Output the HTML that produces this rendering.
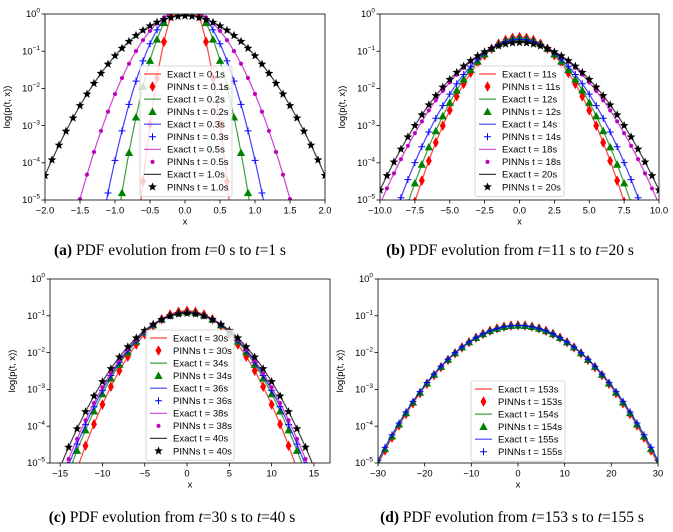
<!DOCTYPE html>
<html><head><meta charset="utf-8"><style>
body{margin:0;background:#fff}
svg{display:block;font-family:"Liberation Sans",sans-serif}
.cap{font-family:"Liberation Serif",serif;font-size:15.5px}
</style></head><body>
<svg id="fig" width="673" height="532" viewBox="0 0 673 532">
<text class="cap" x="170" y="255" text-anchor="middle"><tspan font-weight="bold">(a)</tspan> PDF evolution from <tspan font-style="italic">t</tspan>=0 s to <tspan font-style="italic">t</tspan>=1 s</text>
<text class="cap" x="510" y="255" text-anchor="middle"><tspan font-weight="bold">(b)</tspan> PDF evolution from <tspan font-style="italic">t</tspan>=11 s to <tspan font-style="italic">t</tspan>=20 s</text>
<text class="cap" x="172" y="522" text-anchor="middle"><tspan font-weight="bold">(c)</tspan> PDF evolution from <tspan font-style="italic">t</tspan>=30 s to <tspan font-style="italic">t</tspan>=40 s</text>
<text class="cap" x="512" y="522" text-anchor="middle"><tspan font-weight="bold">(d)</tspan> PDF evolution from <tspan font-style="italic">t</tspan>=153 s to <tspan font-style="italic">t</tspan>=155 s</text>
</svg>
<script>
// ---- data ----
const timesA = ["0.1s","0.2s","0.3s","0.5s","1.0s"];
const sigmaA = [0.125,0.185,0.228,0.31,0.45];
const xticksA = [-2,-1.5,-1,-0.5,0,0.5,1,1.5,2];
const xtickLabelsA = ["\u22122.0","\u22121.5","\u22121.0","\u22120.5","0.0","0.5","1.0","1.5","2.0"];
const timesB = ["11s","12s","14s","18s","20s"];
const sigmaB = [1.66,1.77,1.92,2.23,2.34];
const xticksB = [-10,-7.5,-5,-2.5,0,2.5,5,7.5,10];
const xtickLabelsB = ["\u221210.0","\u22127.5","\u22125.0","\u22122.5","0.0","2.5","5.0","7.5","10.0"];
const timesC = ["30s","34s","36s","38s","40s"];
const sigmaC = [2.92,3.12,3.2,3.27,3.42];
const xticksC = [-15,-10,-5,0,5,10,15];
const xtickLabelsC = ["\u221215","\u221210","\u22125","0","5","10","15"];
const timesD = ["153s","154s","155s"];
const sigmaD = [7.2,7.25,7.3];
const xticksD = [-30,-20,-10,0,10,20,30];
const xtickLabelsD = ["\u221230","\u221220","\u221210","0","10","20","30"];
const yticks = [0,-1,-2,-3,-4,-5];

const NS="http://www.w3.org/2000/svg";
const svg=document.getElementById('fig');
const colors=["#ff0000","#008000","#0000ff","#bf00bf","#000000"];
const mtypes=["d","^","+",".","*"];
const FS=9.4;
function mk(tag,attrs,parent){const e=document.createElementNS(NS,tag);for(const k in attrs)e.setAttribute(k,attrs[k]);(parent||svg).appendChild(e);return e;}
function marker(type,cx,cy,col,g,scale){
  scale=(scale||1)*1.15;let e;
  if(type==="d"){const w=2.6*scale,h=4.6*scale;e=mk('polygon',{points:`${cx},${cy-h} ${cx+w},${cy} ${cx},${cy+h} ${cx-w},${cy}`,fill:col},g);}
  else if(type==="^"){const s=3.6*scale;e=mk('polygon',{points:`${cx},${cy-s} ${cx+s},${cy+s*0.8} ${cx-s},${cy+s*0.8}`,fill:col},g);}
  else if(type==="+"){const s=3*scale;e=mk('path',{d:`M${cx-s},${cy}H${cx+s}M${cx},${cy-s}V${cy+s}`,stroke:col,'stroke-width':1},g);}
  else if(type==="."){e=mk('circle',{cx:cx,cy:cy,r:1.8*scale,fill:col},g);}
  else {const R=4*scale,r=1.7*scale;let p=[];for(let i=0;i<10;i++){const a=-Math.PI/2+i*Math.PI/5,rr=i%2?r:R;p.push((cx+rr*Math.cos(a)).toFixed(2)+","+(cy+rr*Math.sin(a)).toFixed(2));}e=mk('polygon',{points:p.join(" "),fill:col},g);}
  return e;
}
let pid=0;
function panel(c){
  pid++;
  const g=mk('g',{});
  
  
  const X=v=>c.px0+(v-c.xmin)/(c.xmax-c.xmin)*(c.px1-c.px0);
  const Y=lp=>c.py1-(lp+5)/5*(c.py1-c.py0);
  const cp=mk('clipPath',{id:'clip'+pid},g);
  mk('rect',{x:c.px0,y:c.py0,width:c.px1-c.px0,height:c.py1-c.py0},cp);
  const plot=mk('g',{'clip-path':`url(#clip${pid})`},g);
  
  
  c.sigmas.forEach((s,i)=>{
    const p0=1/(s*Math.sqrt(2*Math.PI));
    const lp=x=>Math.log10(p0)-x*x/(2*s*s)/Math.LN10;
    let d="";const N=300;
    for(let k=0;k<=N;k++){const x=c.xmin+(c.xmax-c.xmin)*k/N;d+=(k?"L":"M")+X(x).toFixed(2)+","+Y(Math.max(lp(x),-6)).toFixed(2);}
    const ln=mk('path',{d:d,fill:'none',stroke:colors[i],'stroke-width':1.2,'stroke-opacity':0.75},plot);
    
    
    const mg=mk('g',{},plot);
    
    
    for(let x=c.mstart;x<=c.mend+1e-9;x+=c.mstep){const v=lp(x);if(v<-5.1)continue;marker(mtypes[i],X(x),Y(v),colors[i],mg);}
  });
  const fr=mk('rect',{x:c.px0,y:c.py0,width:c.px1-c.px0,height:c.py1-c.py0,fill:'none',stroke:'#000','stroke-width':0.8},g);
  
  
  c.xticks.forEach((t,i)=>{
    const x=X(t);
    mk('line',{x1:x,x2:x,y1:c.py1,y2:c.py1+3.5,stroke:'#000','stroke-width':0.8},g);
    const tl=mk('text',{x:x,y:c.py1+13.5,'font-size':FS,'text-anchor':'middle'},g);
    tl.textContent=c.xlabels[i];
    
    
  });
  yticks.forEach(t=>{
    const y=Y(t);
    mk('line',{x1:c.px0-3.5,x2:c.px0,y1:y,y2:y,stroke:'#000','stroke-width':0.8},g);
    const tl=mk('text',{x:c.px0-5,y:y+3.2,'font-size':FS,'text-anchor':'end'},g);
    tl.textContent="10";
    const sp=mk('tspan',{dy:-4.5,'font-size':6.5},tl);sp.textContent=t===0?"0":"\u2212"+(-t);
    
    
  });
  const xl=mk('text',{x:(c.px0+c.px1)/2,y:c.py1+24.5,'font-size':FS,'text-anchor':'middle'},g);
  xl.textContent="x";
  
  
  const yx=c.px0-35,yy=(c.py0+c.py1)/2;
  const yl=mk('text',{x:yx,y:yy,'font-size':FS,'text-anchor':'middle',transform:`rotate(-90 ${yx} ${yy})`},g);
  yl.textContent="log(p(t, x))";
  
  
  const lg=mk('g',{},g);
  
  
  const n=c.times.length*2,rowH=12.55;
  mk('rect',{x:c.lx,y:c.ly,width:c.lw,height:n*rowH+5,rx:2,fill:'#fff','fill-opacity':0.8,stroke:'#ccc','stroke-width':0.8},lg);
  c.times.forEach((t,i)=>{
    for(let j=0;j<2;j++){
      const ry=c.ly+8+(2*i+j)*rowH;
      const e=mk('g',{},lg);
      
      
      if(j===0)mk('line',{x1:c.lx+4,x2:c.lx+21,y1:ry,y2:ry,stroke:colors[i],'stroke-width':1.2,'stroke-opacity':0.75},e);
      else marker(mtypes[i],c.lx+12.5,ry,colors[i],e);
      const tx=mk('text',{x:c.lx+27,y:ry+3.3,'font-size':9.5},e);
      tx.textContent=(j===0?"Exact t = ":"PINNs t = ")+t;
    }
  });
}
panel({id:'a',px0:45,px1:325,py0:14,py1:200,xmin:-2,xmax:2,sigmas:sigmaA,times:timesA,xticks:xticksA,xlabels:xtickLabelsA,mstart:-2,mend:2,mstep:0.1,lx:140,ly:66,lw:92});
panel({id:'b',px0:380,px1:659,py0:14,py1:200,xmin:-10,xmax:10,sigmas:sigmaB,times:timesB,xticks:xticksB,xlabels:xtickLabelsB,mstart:-10,mend:10,mstep:0.5,lx:475,ly:66,lw:89});
panel({id:'c',px0:50,px1:330,py0:279,py1:463,xmin:-16.2,xmax:16.9,sigmas:sigmaC,times:timesC,xticks:xticksC,xlabels:xtickLabelsC,mstart:-16,mend:16,mstep:1,lx:146,ly:330,lw:88});
panel({id:'d',px0:378,px1:658,py0:279,py1:463,xmin:-30,xmax:30,sigmas:sigmaD,times:timesD,xticks:xticksD,xlabels:xtickLabelsD,mstart:-30,mend:30,mstep:1.5,lx:471,ly:381,lw:94});
</script>
</body></html>
